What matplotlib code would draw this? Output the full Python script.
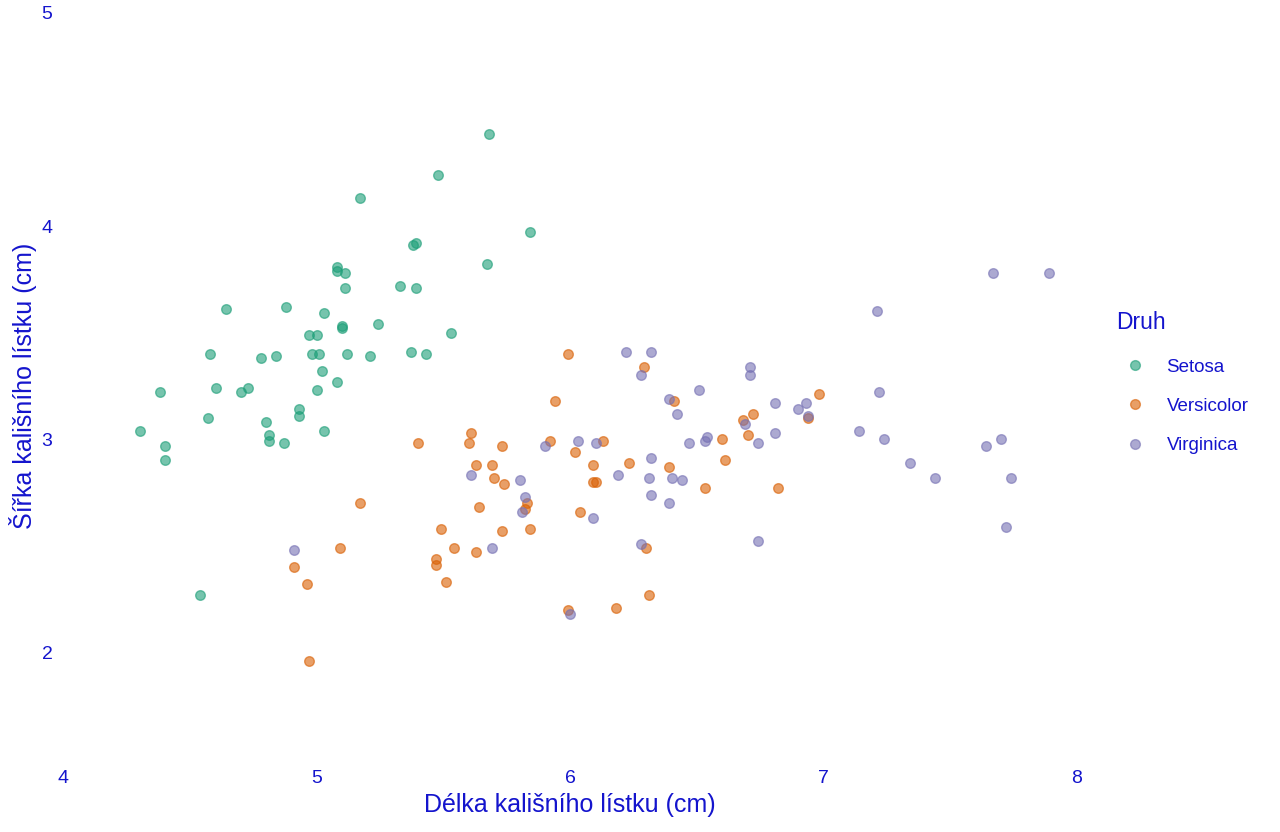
import numpy as np
import matplotlib
matplotlib.use("Agg")
import matplotlib.pyplot as plt
from matplotlib.lines import Line2D

plt.rcParams['font.family'] = ['Liberation Sans', 'DejaVu Sans']

setosa_x = [5.48, 5.17, 5.39, 5.38, 5.08, 5.08, 5.11, 5.11, 5.33, 5.39,
            4.64, 4.88, 5.03, 5.10, 5.10, 5.24, 4.97, 5.00, 5.53, 4.58,
            4.78, 4.84, 4.98, 5.01, 5.12, 5.21, 5.37, 5.43, 5.02, 5.08,
            4.38, 4.60, 4.70, 4.73, 5.00, 4.93, 4.93, 4.57, 4.80, 4.81,
            4.81, 4.87, 5.03, 4.30, 4.40, 4.40, 4.54, 5.68, 5.67, 5.84]
setosa_y = [4.24, 4.13, 3.92, 3.91, 3.81, 3.79, 3.78, 3.71, 3.72, 3.71,
            3.61, 3.62, 3.59, 3.53, 3.52, 3.54, 3.49, 3.49, 3.50, 3.40,
            3.38, 3.39, 3.40, 3.40, 3.40, 3.39, 3.41, 3.40, 3.32, 3.27,
            3.22, 3.24, 3.22, 3.24, 3.23, 3.14, 3.11, 3.10, 3.08, 3.02,
            2.99, 2.98, 3.04, 3.04, 2.97, 2.90, 2.27, 4.43, 3.82, 3.97]

versicolor_x = [5.61, 5.40, 5.60, 5.63, 5.17, 5.49, 5.54, 5.63, 5.47, 5.47,
                5.51, 5.09, 4.91, 4.96, 4.97, 5.64, 5.99, 6.29, 6.41, 5.94,
                5.73, 5.92, 6.13, 6.02, 6.60, 5.69, 5.70, 5.74, 6.09, 6.23,
                6.39, 6.61, 6.09, 6.10, 6.53, 5.83, 5.82, 6.04, 5.73, 5.84,
                6.30, 6.31, 6.18, 5.99, 6.98, 6.72, 6.68, 6.70, 6.82, 6.94]
versicolor_y = [3.03, 2.98, 2.98, 2.88, 2.70, 2.58, 2.49, 2.47, 2.44, 2.41,
                2.33, 2.49, 2.40, 2.32, 1.96, 2.68, 3.40, 3.34, 3.18, 3.18,
                2.97, 2.99, 2.99, 2.94, 3.00, 2.88, 2.82, 2.79, 2.88, 2.89,
                2.87, 2.90, 2.80, 2.80, 2.77, 2.70, 2.67, 2.66, 2.57, 2.58,
                2.49, 2.27, 2.21, 2.20, 3.21, 3.12, 3.09, 3.02, 2.77, 3.10]

virginica_x = [5.61, 4.91, 6.22, 6.32, 6.28, 6.39, 6.42, 6.51, 5.90, 6.03,
               6.10, 6.47, 6.53, 6.54, 5.80, 5.82, 5.81, 6.19, 6.31, 6.32,
               6.40, 6.44, 6.32, 6.39, 6.09, 5.69, 6.28, 6.00, 7.67, 7.89,
               7.21, 6.71, 6.71, 6.81, 6.93, 6.90, 6.94, 7.22, 6.69, 6.81,
               6.74, 7.14, 7.24, 7.34, 7.44, 7.64, 7.70, 7.74, 7.72, 6.74]
virginica_y = [2.83, 2.48, 3.41, 3.41, 3.30, 3.19, 3.12, 3.23, 2.97, 2.99,
               2.98, 2.98, 2.99, 3.01, 2.81, 2.73, 2.66, 2.83, 2.82, 2.91,
               2.82, 2.81, 2.74, 2.70, 2.63, 2.49, 2.51, 2.18, 3.78, 3.78,
               3.60, 3.34, 3.30, 3.17, 3.17, 3.14, 3.11, 3.22, 3.07, 3.03,
               2.98, 3.04, 3.00, 2.89, 2.82, 2.97, 3.00, 2.82, 2.59, 2.52]

species = ['Setosa', 'Versicolor', 'Virginica']
colors = ['#1B9E77', '#D95F02', '#7570B3']
txt = '#1414CD'

fig = plt.figure(figsize=(12.8, 8.32), dpi=100)
ax = fig.add_axes([0.0496, 0.0879, 0.7918, 0.8966])

series = [(setosa_x, setosa_y), (versicolor_x, versicolor_y), (virginica_x, virginica_y)]
for (xs, ys), c in zip(series, colors):
    ax.scatter(xs, ys, s=48, color=c, alpha=0.6, linewidths=1, edgecolors=c, clip_on=False)

ax.set_xlim(4, 8)
ax.set_ylim(1.5, 5)
ax.set_xticks([4, 5, 6, 7, 8])
ax.set_yticks([2, 3, 4, 5])
for s in ax.spines.values():
    s.set_visible(False)
ax.tick_params(length=0, labelsize=14, labelcolor=txt)
ax.tick_params(axis='x', pad=8)
ax.tick_params(axis='y', pad=8)

ax.set_xlabel('Délka kališního lístku (cm)', fontsize=18, color=txt, labelpad=4)
ax.set_ylabel('Šířka kališního lístku (cm)', fontsize=18, color=txt, labelpad=3)

handles = [Line2D([], [], marker='o', linestyle='none', markersize=7,
                  markerfacecolor=c, markeredgecolor=c, alpha=0.6) for c in colors]
leg = fig.legend(handles, species, title='Druh', loc='upper left',
                 bbox_to_anchor=(1107 / 1280, 1 - 302 / 832), frameon=False,
                 fontsize=13.5, title_fontsize=16.5, labelspacing=1.18,
                 handletextpad=0.67, borderpad=0, alignment='left')
leg._legend_box.sep = 17.5
for t in leg.get_texts():
    t.set_color(txt)
leg.get_title().set_color(txt)

fig.savefig('out.png', dpi=100)
